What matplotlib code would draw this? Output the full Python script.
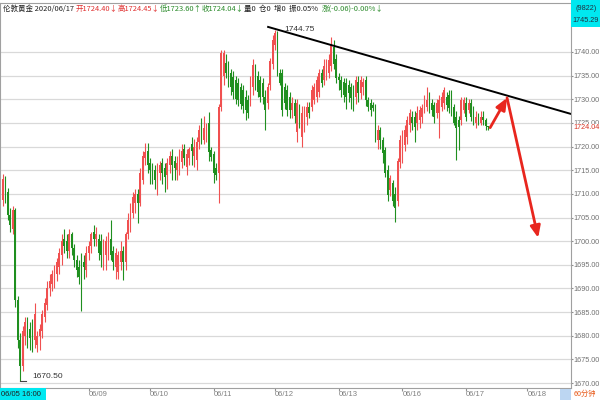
import matplotlib
matplotlib.use('Agg')
import matplotlib.pyplot as plt
import matplotlib.transforms as mtransforms
from matplotlib.patches import Rectangle
import numpy as np

# hourly candles, London gold
opens = [
    1708.7, 1713.2, 1710.5, 1705.5, 1702.5, 1706.5, 1687.5, 1679, 1673.5, 1680,
    1683, 1681.5, 1682.5, 1679, 1678, 1680, 1681, 1684, 1686.5, 1690,
    1691, 1692.5, 1693, 1694.5, 1697, 1700.5, 1700, 1698, 1701.5, 1698.5,
    1696, 1694.5, 1696, 1695.5, 1694, 1697.5, 1699, 1702, 1700.5, 1700.5,
    1700, 1696, 1697, 1698, 1700.5, 1698, 1694.5, 1693.5, 1695.5, 1698,
    1695.5, 1701.5, 1703, 1706, 1708, 1710, 1708, 1713, 1717.6, 1719,
    1716.5, 1715.5, 1715, 1713.5, 1714.5, 1716.5, 1715.5, 1714, 1716, 1718,
    1717, 1715, 1716.5, 1716.8, 1719.5, 1715.7, 1717.5, 1720.5, 1718, 1717.2,
    1721, 1725.5, 1721.4, 1722, 1725, 1719.3, 1718.5, 1715.5, 1714.5, 1728.4,
    1735, 1737.7, 1736.8, 1735.5, 1734.8, 1734, 1733.4, 1732.6, 1732, 1730.5,
    1729.8, 1729.8, 1732.5, 1736.5, 1735, 1734, 1733.5, 1730.5, 1729.2, 1733,
    1737.5, 1741.5, 1744, 1735.5, 1735.5, 1732.6, 1732, 1730.5, 1727.7, 1729.2,
    1723, 1727.7, 1722, 1724.5, 1726.3, 1728.4, 1728.4, 1729.8, 1730.5, 1731.5,
    1735.6, 1734.1, 1735, 1735.5, 1737, 1741, 1738.5, 1734.7, 1734.1, 1733.7,
    1733.4, 1733, 1732.6, 1732.3, 1730.5, 1733.7, 1731.3, 1732.5, 1734.1, 1729.8,
    1729.2, 1728.8, 1728.4, 1721.4, 1723.5, 1721.4, 1719.3, 1715, 1710.8, 1712.3,
    1710, 1708.5, 1716.8, 1718, 1720.3, 1722, 1724.5, 1726.3, 1726.3, 1725,
    1725.6, 1726.3, 1727.7, 1728.4, 1730.3, 1729.2, 1728.8, 1727, 1727, 1728.4,
    1729.2, 1730.5, 1731, 1729.8, 1728.4, 1726.3, 1725.6, 1725.6, 1727.7, 1729.2,
    1727.7, 1729.2, 1727.7, 1725, 1726.3, 1725, 1726.3, 1725.6, 1724.4,
]
highs = [
    1714.2, 1713.8, 1711.2, 1707, 1707.5, 1707, 1688.5, 1680.5, 1682, 1684,
    1684, 1683, 1683.5, 1687, 1681, 1682.5, 1685.5, 1688, 1691.5, 1693,
    1694, 1695, 1696.5, 1698.5, 1701.5, 1702.5, 1701.5, 1702.5, 1702, 1699.5,
    1697, 1696, 1697.5, 1697, 1699, 1700, 1702, 1703.5, 1703, 1701.5,
    1701.5, 1700.5, 1701, 1702, 1704.5, 1699, 1698.5, 1698, 1700, 1699,
    1702, 1706, 1708, 1710.5, 1711, 1711, 1715.5, 1719, 1720.8, 1720.8,
    1717.5, 1716.5, 1716, 1716.5, 1717, 1717.5, 1716.5, 1717.5, 1719, 1719.5,
    1718, 1718, 1719.5, 1720.5, 1720.5, 1719.5, 1720, 1722, 1721.5, 1722,
    1724.5, 1726, 1726.5, 1725, 1727.3, 1720, 1719, 1716.5, 1729, 1740.5,
    1740.5, 1739.5, 1738, 1736.5, 1736, 1735, 1734.5, 1733.5, 1733, 1732,
    1731, 1735, 1738.5, 1737.5, 1736, 1735, 1734.5, 1732, 1733.5, 1738.8,
    1743.5, 1744.75, 1744.5, 1736.5, 1736.5, 1733.5, 1733, 1731.5, 1730.5, 1730,
    1730, 1729, 1728.5, 1728.5, 1729.5, 1729.5, 1733, 1733.5, 1735, 1736.5,
    1736.5, 1738.5, 1738.5, 1739.5, 1743.2, 1742.5, 1739.5, 1735.5, 1735, 1734.5,
    1734.5, 1734, 1733.5, 1733, 1735, 1735, 1735, 1734.5, 1735, 1730.5,
    1730, 1729.5, 1729, 1724.5, 1724.2, 1722, 1720, 1716, 1714, 1713,
    1711.5, 1717.5, 1722.5, 1723.5, 1724.5, 1726.5, 1728, 1727.5, 1727.5, 1728.5,
    1728.5, 1729, 1731, 1732.6, 1731.5, 1730, 1729.5, 1730, 1731, 1731.5,
    1732.6, 1731.5, 1732, 1732, 1729, 1727.5, 1726.5, 1730.5, 1730.5, 1730.5,
    1730, 1730, 1728.5, 1727.5, 1727, 1727.5, 1727.5, 1726, 1724.45,
]
lows = [
    1707.5, 1708, 1704.5, 1702, 1701.5, 1686, 1677.5, 1670.5, 1672.5, 1678,
    1677.5, 1677, 1676.5, 1677.5, 1676.5, 1677, 1679.5, 1683, 1685.5, 1688.5,
    1689.5, 1690, 1691.5, 1693, 1695, 1697.5, 1696.5, 1696.5, 1697, 1694.5,
    1692.5, 1691, 1685.2, 1692, 1692.5, 1696, 1697.5, 1699, 1699, 1696,
    1694.5, 1694, 1693.8, 1696, 1696, 1694, 1692, 1692, 1694, 1691.8,
    1694, 1700.5, 1702, 1705, 1706, 1703.8, 1707.5, 1712, 1716, 1714.5,
    1712, 1712, 1711, 1709.8, 1713, 1712, 1710.5, 1711, 1714.5, 1713,
    1713, 1713, 1714, 1715.5, 1716, 1714, 1716, 1716, 1715.7, 1715,
    1719.5, 1720.5, 1720.5, 1721, 1717, 1717, 1712.3, 1713, 1708, 1727.5,
    1733, 1734.5, 1732.5, 1731, 1730, 1729, 1728.5, 1728, 1727, 1725.6,
    1726, 1728.5, 1731, 1732, 1730.5, 1729.5, 1729, 1723.5, 1728, 1732,
    1736.5, 1740.5, 1735, 1733, 1726.5, 1728, 1726.5, 1726, 1726, 1725,
    1721, 1724, 1720, 1723, 1724.5, 1726, 1727.5, 1729, 1729.5, 1730.5,
    1732.5, 1733, 1734, 1734.5, 1736, 1736.5, 1733.5, 1732, 1730.5, 1729.5,
    1728, 1729.5, 1728, 1727.5, 1729, 1729.5, 1730, 1731, 1728.5, 1727.5,
    1726.5, 1727.5, 1721, 1719.5, 1719.5, 1716.5, 1713.5, 1708.5, 1709.5, 1707.5,
    1704, 1707.5, 1715.5, 1716.5, 1719, 1720.5, 1723, 1723.5, 1721, 1723.5,
    1724, 1725, 1727, 1727.5, 1727, 1726.5, 1725, 1726, 1721.8, 1727.5,
    1728, 1727.5, 1727, 1726.5, 1724.5, 1717.2, 1719.3, 1724.5, 1727, 1725.5,
    1727, 1725.5, 1724.5, 1724, 1724.5, 1724.5, 1724.5, 1723.5, 1723.6,
]
closes = [
    1713.2, 1710.5, 1705.5, 1703.5, 1706.5, 1687.5, 1679, 1673.5, 1681, 1683,
    1679, 1679.5, 1679, 1684.5, 1680, 1681.5, 1684.5, 1687, 1690, 1691.5,
    1693, 1694, 1695.5, 1697.5, 1700, 1699, 1698, 1701.5, 1698.5, 1696,
    1694, 1692.5, 1693.5, 1694.5, 1697.5, 1699, 1701.5, 1700.5, 1701.5, 1697.5,
    1697, 1699.5, 1700, 1701, 1697, 1695.5, 1697.5, 1697, 1698, 1695.5,
    1701.5, 1704.5, 1706.5, 1709.3, 1710, 1708, 1714.5, 1718, 1718.8, 1716.2,
    1715, 1713.5, 1713, 1715.6, 1716, 1714.5, 1713.5, 1716.5, 1718, 1716,
    1715.5, 1716.5, 1718, 1719, 1717.5, 1718.5, 1719.5, 1719, 1720, 1721,
    1723.5, 1722, 1724, 1724, 1718.8, 1717.8, 1714.5, 1714, 1728.4, 1739.8,
    1739.8, 1735.5, 1733.4, 1732.6, 1731.5, 1730, 1729.8, 1729, 1728.5, 1727.7,
    1727, 1734, 1737.2, 1733.5, 1731.5, 1730.5, 1730.5, 1727.7, 1732.6, 1738,
    1742.5, 1744, 1736, 1733.5, 1727.7, 1729.2, 1727.7, 1727.7, 1729.2, 1726.5,
    1729.2, 1725, 1727, 1727.7, 1728.4, 1727, 1732, 1732.6, 1734.1, 1735.6,
    1733.4, 1737, 1737.5, 1738.3, 1741.7, 1737.5, 1734.5, 1734, 1732, 1731,
    1730.5, 1731.3, 1730.3, 1729.8, 1734.1, 1731.3, 1734.1, 1733.7, 1729.8, 1728.4,
    1727.7, 1728.2, 1722, 1723.5, 1721.4, 1718.6, 1714.4, 1709.7, 1713.3, 1708.5,
    1707, 1717, 1721.4, 1722.6, 1723.5, 1725.6, 1727, 1725, 1724.1, 1727,
    1727.7, 1728.2, 1729.8, 1729.8, 1728.2, 1727.7, 1726.3, 1729.2, 1729.8, 1730.5,
    1732, 1728.8, 1728.2, 1727, 1725, 1723.9, 1724.1, 1729.8, 1729.8, 1726.3,
    1729.2, 1726.3, 1725.6, 1726.3, 1725, 1726.3, 1725.6, 1724.4, 1724.04,
]

# first bar of each day on the time axis
day_starts = [35, 60, 86, 111, 137, 163, 189, 214]
day_labels = ['06/09', '06/10', '06/11', '06/12', '06/13', '06/16', '06/17', '06/18']

# hand-drawn trend line and forecast arrows (bar index, price)
trend_x = [108.2, 231.8]
trend_y = [1745.3, 1726.9]
arrow_x = [198.8, 205.7, 218.4]
arrow_y = [1724.0, 1730.3, 1700.7]

last_price = 1724.04
top_price = 1745.29

RED = '#f05050'
GREEN = '#1f8f1f'
GREY = '#707070'
NUM = ['Liberation Sans', 'DejaVu Sans']
CJK = ['Noto Sans CJK SC', 'DejaVu Sans']
FS = 5.5
FSY = 5.2   # right price scale, narrow column

o = np.array(opens)
h = np.array(highs)
l = np.array(lows)
c = np.array(closes)
idx = np.arange(len(c))
cols = np.where(c >= o, RED, GREEN)

fig = plt.figure(figsize=(6, 4), dpi=100)
ax = fig.add_axes([0, 12 / 400, 571 / 600, 385 / 400])
ax.set_xlim(-1.22, 231.8)
ax.set_ylim(1668.95, 1750.36)

ax.grid(axis='y', color='#d9d9d9', lw=0.9)
ax.set_axisbelow(True)

# candles
ax.vlines(idx, l, h, colors=cols, lw=0.8)
ax.bar(idx, np.maximum(np.abs(c - o), 0.15), bottom=np.minimum(o, c),
       width=0.7, color=cols, lw=0)

# trend line + arrows
ax.plot(trend_x, trend_y, color='black', lw=1.4)
for k in range(2):
    ax.annotate('', xy=(arrow_x[k + 1], arrow_y[k + 1]), xytext=(arrow_x[k], arrow_y[k]),
                arrowprops=dict(arrowstyle='-|>,head_length=0.7,head_width=0.3',
                                color='#e8261e', lw=2, shrinkA=0, shrinkB=0))

# high / low marks
hi_i, hi_v = int(np.argmax(h)), h.max()
lo_i, lo_v = int(np.argmin(l)), l.min()
ax.text(hi_i + 4, hi_v, f'{hi_v:.2f}', fontsize=6, family=NUM,
        color='#333333', va='center', ha='left')
ax.plot([lo_i, lo_i, lo_i + 2.4], [lo_v, lo_v - 0.15, lo_v - 0.15], color='#444444', lw=0.8)
ax.text(lo_i + 4.8, lo_v + 0.9, f'{lo_v:.2f}', fontsize=6, family=NUM,
        color='#333333', va='center', ha='left')

# axes
for sp in ax.spines.values():
    sp.set_color('#a0a0a0')
    sp.set_linewidth(0.8)
ax.yaxis.tick_right()
yt = np.arange(1670, 1741, 5)
ax.set_yticks(yt)
ax.set_yticklabels([f'{v:.2f}' for v in yt], family=NUM)
ax.tick_params(axis='y', length=1.5, pad=0.4, labelsize=FSY, labelcolor=GREY, color='#909090')
ax.set_xticks(day_starts)
ax.set_xticklabels(day_labels, ha='left', family=NUM)
ax.tick_params(axis='x', length=2, pad=0.5, labelsize=FS, labelcolor='#808080', color='#909090')

yblend = mtransforms.blended_transform_factory(ax.transAxes, ax.transData)
ax.text(1.0035, last_price, f'{last_price:.2f}', transform=yblend, fontsize=FSY, family=NUM,
        color='#d83020', va='center', ha='left',
        bbox=dict(fc='white', ec='none', pad=0.2))

# header line
segs = [('伦敦黄金 2020/06/17 ', '#202020'), ('开1724.40↓', '#e03030'), ('高1724.45↓', '#e03030'),
        ('低1723.60↑', '#2a8a2a'), ('收1724.04↓', '#2a8a2a'),
        ('量0  仓0  增0  振0.05%  ', '#202020'), ('涨(-0.06)-0.00%↓', '#2a8a2a')]
t = ax.text(3 / 600, 1 - 9 / 400, segs[0][0], transform=fig.transFigure, fontsize=5.4,
            family=CJK, color=segs[0][1], va='center', ha='left')
for s, col in segs[1:]:
    t = ax.annotate(s, xy=(1, 0.5), xycoords=t, va='center', ha='left',
                    fontsize=5.4, family=CJK, color=col)

# corner boxes
fig.add_artist(Rectangle((571 / 600, 1 - 27 / 400), 29 / 600, 27 / 400,
                         transform=fig.transFigure, fc='#00e8f0', ec='none'))
fig.text(586 / 600, 1 - 8 / 400, '(9822)', fontsize=FSY, family=NUM,
         color='#203040', ha='center', va='center')
fig.text(586 / 600, 1 - 20 / 400, f'{top_price:.2f}', fontsize=FSY, family=NUM,
         color='#203040', ha='center', va='center')
fig.add_artist(Rectangle((0, 0), 46 / 600, 12 / 400, transform=fig.transFigure,
                         fc='#00e8f0', ec='none'))
fig.text(1 / 600, 6 / 400, '06/05 16:00', fontsize=FS, family=NUM,
         color='#202020', ha='left', va='center')
fig.add_artist(Rectangle((560 / 600, 0), 11 / 600, 11 / 400, transform=fig.transFigure,
                         fc='#bcd6f2', ec='none'))
fig.text(574 / 600, 6 / 400, '60分钟', fontsize=FSY, family=CJK,
         color='#e85a1a', ha='left', va='center')

fig.savefig('out.png', dpi=100)
